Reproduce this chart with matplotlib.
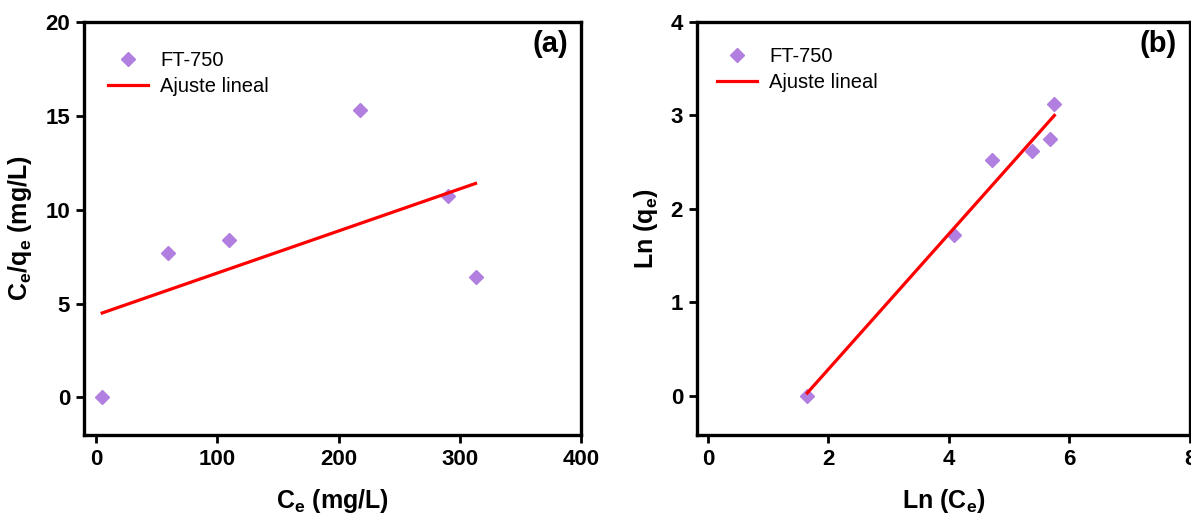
import matplotlib
matplotlib.use('Agg')
import matplotlib.pyplot as plt
import numpy as np

plt.rcParams['font.family'] = ['Liberation Sans', 'DejaVu Sans']
plt.rcParams['mathtext.fontset'] = 'custom'
plt.rcParams['mathtext.rm'] = 'Liberation Sans:bold'
plt.rcParams['mathtext.bf'] = 'Liberation Sans:bold'

# (a) Langmuir linear form
ce = [5, 59, 110, 218, 290, 313]
ce_qe = [0.0, 7.7, 8.4, 15.3, 10.75, 6.4]
fit_a_x = [5, 313]
fit_a_y = [4.5, 11.4]

# (b) Freundlich linear form
ln_ce = [1.65, 4.08, 4.71, 5.38, 5.67, 5.75]
ln_qe = [0.0, 1.72, 2.52, 2.62, 2.75, 3.12]
fit_b_x = [1.65, 5.75]
fit_b_y = [0.03, 3.0]

purple = '#B07FE0'

fig = plt.figure(figsize=(11.91, 5.17), dpi=100)
ax1 = fig.add_axes([84/1191, 82/517, 497/1191, 413/517])
ax2 = fig.add_axes([697/1191, 82/517, 493/1191, 413/517])


def style(ax):
    for s in ax.spines.values():
        s.set_linewidth(2.4)
    ax.tick_params(direction='out', length=6, width=2, labelsize=16, pad=4)
    for lab in ax.get_xticklabels() + ax.get_yticklabels():
        lab.set_fontweight('bold')


ax1.plot(ce, ce_qe, 'D', color=purple, markersize=7.5, label='FT-750')
ax1.plot(fit_a_x, fit_a_y, '-', color='red', lw=2.3, label='Ajuste lineal')
ax1.set_xlim(-10, 400)
ax1.set_ylim(-2, 20)
ax1.set_xticks([0, 100, 200, 300, 400])
ax1.set_yticks([0, 5, 10, 15, 20])
style(ax1)
ax1.set_xlabel(r'$\mathbf{C_e}$ (mg/L)', fontsize=18, fontweight='bold', labelpad=12)
ax1.set_ylabel(r'$\mathbf{C_e/q_e}$ (mg/L)', fontsize=18, fontweight='bold', labelpad=8)
ax1.text(0.974, 0.98, '(a)', transform=ax1.transAxes, ha='right', va='top',
         fontsize=21, fontweight='bold')
ax1.legend(loc='upper left', frameon=False, fontsize=14.5, bbox_to_anchor=(0.048, 0.93),
           borderpad=0, borderaxespad=0, handlelength=2.0, handletextpad=0.6,
           labelspacing=0.35)

ax2.plot(ln_ce, ln_qe, 'D', color=purple, markersize=7.5, label='FT-750')
ax2.plot(fit_b_x, fit_b_y, '-', color='red', lw=2.3, label='Ajuste lineal')
ax2.set_xlim(-0.18, 8)
ax2.set_ylim(-0.42, 4)
ax2.set_xticks([0, 2, 4, 6, 8])
ax2.set_yticks([0, 1, 2, 3, 4])
style(ax2)
ax2.set_xlabel(r'Ln ($\mathbf{C_e}$)', fontsize=18, fontweight='bold', labelpad=12)
ax2.set_ylabel(r'Ln ($\mathbf{q_e}$)', fontsize=18, fontweight='bold', labelpad=8)
ax2.text(0.974, 0.98, '(b)', transform=ax2.transAxes, ha='right', va='top',
         fontsize=21, fontweight='bold')
ax2.legend(loc='upper left', frameon=False, fontsize=14.5, bbox_to_anchor=(0.04, 0.94),
           borderpad=0, borderaxespad=0, handlelength=2.0, handletextpad=0.6,
           labelspacing=0.35)

fig.savefig('out.png', dpi=100)
